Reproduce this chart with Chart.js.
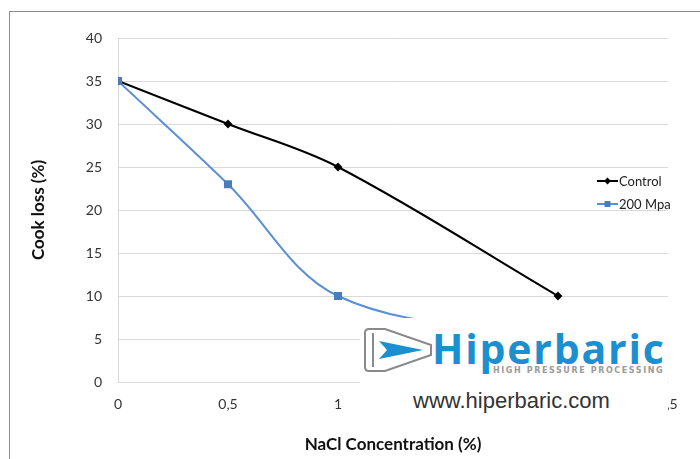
<!DOCTYPE html>
<html>
<head>
<meta charset="utf-8">
<script src="https://cdn.jsdelivr.net/npm/chart.js@4"></script>
<style>
  body { margin: 0; background: #fff; }
  .wrap { position: relative; width: 700px; height: 459px; overflow: hidden; }
  .frame { position: absolute; left: 9px; top: 11px; width: 720px; height: 480px; border: 1px solid #8c8c8c; }
  #cookChart { position: absolute; left: 0; top: 0; }
  .logo { position: absolute; left: 360px; top: 318px; width: 308px; height: 100px; background: #fff; }
  .logo svg { position: absolute; left: 3px; top: 7px; }
  .logo .brand { position: absolute; left: 72px; top: 2px; font: 700 41px "Open Sans", sans-serif; color: #1c8fd0; letter-spacing: 1.8px; }
  .logo .sub { position: absolute; left: 133px; top: 48px; font: 700 8px "DejaVu Sans", sans-serif; color: #9a9a9a; letter-spacing: 1.6px; }
  .logo .url { position: absolute; left: 53px; top: 70px; font: 22px "Liberation Sans", sans-serif; color: #333; }
</style>
</head>
<body>
<div class="wrap">
  <div class="frame"></div>
  <canvas id="cookChart" width="700" height="459"></canvas>
  <div class="logo">
    <svg width="72" height="50" viewBox="0 0 72 50">
      <path d="M6 4 L22 4 L68 20 L68 30 L22 46 L6 46 Q2 46 2 42 L2 8 Q2 4 6 4 Z" fill="none" stroke="#8a8a8a" stroke-width="2"/>
      <path d="M10 8 L10 42" stroke="#8a8a8a" stroke-width="2"/>
      <path d="M16 16 L60 25 L16 34 L24 25 Z" fill="#1c8fd0"/>
    </svg>
    <div class="brand">Hiperbaric</div>
    <div class="sub">HIGH PRESSURE PROCESSING</div>
    <div class="url">www.hiperbaric.com</div>
  </div>
</div>
<script>
const concentrations = [0, 0.5, 1, 2];
const controlLoss = [35, 30, 25, 10];
const hppLoss = [35, 23, 10, 5];
const seriesNames = ['Control', '200 Mpa'];

const toPoints = vals => vals.map((v, i) => ({ x: concentrations[i], y: v }));

// legend sits inside the plot area on the right, like the original
const sideLegend = {
  id: 'sideLegend',
  afterDraw(chart) {
    const ctx = chart.ctx;
    chart.data.datasets.forEach((ds, i) => {
      const y = 181 + i * 23;
      ctx.save();
      ctx.strokeStyle = ds.borderColor;
      ctx.lineWidth = 2;
      ctx.beginPath();
      ctx.moveTo(597, y);
      ctx.lineTo(618, y);
      ctx.stroke();
      ctx.fillStyle = ds.pointBackgroundColor;
      if (ds.pointStyle === 'rect') {
        ctx.fillRect(604.5, y - 3, 6, 6);
      } else {
        ctx.beginPath();
        ctx.moveTo(607.5, y - 3.5);
        ctx.lineTo(611, y);
        ctx.lineTo(607.5, y + 3.5);
        ctx.lineTo(604, y);
        ctx.closePath();
        ctx.fill();
      }
      ctx.fillStyle = '#222';
      ctx.font = '13px Lato';
      ctx.textBaseline = 'middle';
      ctx.fillText(ds.label, 619, y + 1);
      ctx.restore();
    });
  }
};

new Chart(document.getElementById('cookChart'), {
  type: 'line',
  data: {
    datasets: [{
      label: seriesNames[0],
      data: toPoints(controlLoss),
      borderColor: '#000',
      backgroundColor: '#000',
      pointBackgroundColor: '#000',
      pointBorderColor: '#000',
      pointStyle: 'rectRot',
      pointRadius: 3,
      borderWidth: 2,
      tension: 0.35,
      order: 1
    }, {
      label: seriesNames[1],
      data: toPoints(hppLoss),
      borderColor: '#5b8fd6',
      backgroundColor: '#4a7ebb',
      pointBackgroundColor: '#4a7ebb',
      pointBorderColor: '#4a7ebb',
      pointStyle: 'rect',
      pointRadius: 4.3,
      borderWidth: 2,
      tension: 0.35,
      order: 0
    }]
  },
  options: {
    responsive: false,
    animation: false,
    layout: { padding: { left: 0, top: 38, right: 32, bottom: 0 } },
    plugins: { legend: { display: false }, tooltip: { enabled: false } },
    scales: {
      x: {
        type: 'linear',
        min: 0,
        max: 2.5,
        afterFit: s => { s.height = 77; },
        ticks: {
          stepSize: 0.5,
          padding: 14,
          color: '#333',
          font: { family: 'Lato', size: 14 },
          callback: v => String(v).replace('.', ',')
        },
        grid: { display: false, drawTicks: false },
        border: { color: '#d9d9d9' },
        title: {
          display: true,
          text: 'NaCl Concentration (%)',
          color: '#111',
          font: { family: 'Lato', size: 17, weight: 'bold' },
          padding: { top: 9 }
        }
      },
      y: {
        min: 0,
        max: 40,
        afterFit: s => { s.width = 118; },
        ticks: {
          stepSize: 5,
          padding: 16,
          color: '#333',
          font: { family: 'Lato', size: 14 }
        },
        grid: { color: '#d9d9d9', drawTicks: false },
        border: { color: '#d9d9d9' },
        title: {
          display: true,
          text: 'Cook loss (%)',
          color: '#111',
          font: { family: 'Lato', size: 17, weight: 'bold' },
          padding: { top: 28 }
        }
      }
    }
  },
  plugins: [sideLegend]
});
</script>
</body>
</html>
